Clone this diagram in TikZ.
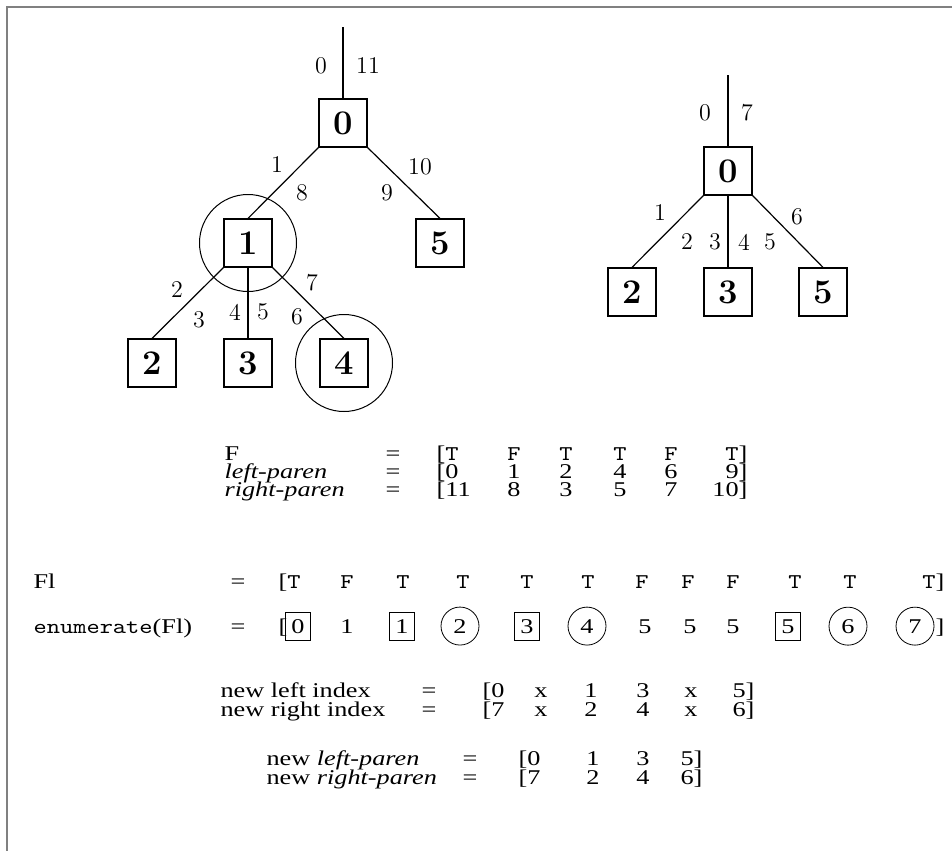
\documentclass[tikz,border=0pt]{standalone}
\usepackage{fontspec}
\setmainfont[FakeStretch=1.25]{Liberation Serif}
\setmonofont[FakeStretch=1.2]{Latin Modern Mono}
\newfontfamily\lmfont{Latin Modern Roman}
\tikzset{
  vbox/.style={draw, line width=0.6pt, minimum width=24pt, minimum height=24pt, inner sep=0pt, font=\lmfont\bfseries\fontsize{17.28}{20}\selectfont},
  ring/.style={draw, circle, line width=0.5pt, minimum size=48.5pt, inner sep=0pt},
  elab/.style={inner sep=0pt, font=\lmfont\fontsize{12}{14}\selectfont},
  txt/.style={inner sep=0pt, font=\fontsize{10.5}{12}\selectfont},
  sq/.style={draw, line width=0.4pt, minimum width=12.5pt, minimum height=14pt, inner sep=0pt, font=\fontsize{10.5}{12}\selectfont},
  rd/.style={draw, circle, line width=0.4pt, minimum size=19pt, inner sep=0pt, font=\fontsize{10.5}{12}\selectfont}
}
\begin{document}
\begin{tikzpicture}[x=0.5pt,y=-0.5pt,line width=0.6pt]
\useasboundingbox (0,0) rectangle (952,851);
\draw[gray, line width=1pt] (952,6.5) -- (6.5,6.5) -- (6.5,851);
\node[vbox] (a0) at (343,123) {0};
\node[vbox] (a1) at (248,243) {1};
\node[vbox] (a5) at (440,243) {5};
\node[vbox] (a2) at (152,363) {2};
\node[vbox] (a3) at (248,363) {3};
\node[vbox] (a4) at (344,363) {4};
\node[ring] (c1) at (a1) {};
\node[ring] (c4) at (a4) {};
\coordinate (atop) at (343,27);
\draw (atop) -- (a0);
\draw (a0.south west) -- (a1.north);
\draw (a0.south east) -- (a5.north);
\draw (a1.south west) -- (a2.north);
\draw (a1.south) -- (a3.north);
\draw (a1.south east) -- (a4.north);
\foreach \x/\y/\t [count=\i] in {321/66/0, 368/66/11, 277/165/1, 302/193/8, 420/167/10, 387/193/9,
  177/290/2, 199/320/3, 235/312/4, 263/312/5, 297/317/6, 312/283/7}
  \node[elab] (la\i) at (\x,\y) {\t};
\node[vbox] (b0) at (728,171) {0};
\node[vbox] (b2) at (632,292) {2};
\node[vbox] (b3) at (728,292) {3};
\node[vbox] (b5) at (823,292) {5};
\coordinate (btop) at (728,75);
\draw (btop) -- (b0);
\draw (b0.south west) -- (b2.north);
\draw (b0.south) -- (b3.north);
\draw (b0.south east) -- (b5.north);
\foreach \x/\y/\t [count=\i] in {705/113/0, 747/113/7, 660/213/1, 687/242/2, 715/242/3, 744/242/4, 770/242/5, 797/217/6}
  \node[elab] (lb\i) at (\x,\y) {\t};
\node[txt, anchor=base west] (fa) at (224,460) {F};
\node[txt, anchor=base west] (fb) at (224,478) {\itshape left-paren};
\node[txt, anchor=base west] (fc) at (224,496) {\itshape right-paren};
\foreach \y/\p/\q [count=\i] in {460/\texttt{T}/\texttt{T}, 478/0/9, 496/11/10} {
  \node[txt, anchor=base] (feq\i) at (393,\y) {=};
  \node[txt, anchor=base west] (fst\i) at (436,\y) {[\p};
  \node[txt, anchor=base east] (fen\i) at (748,\y) {\q]};
}
\foreach \x/\t [count=\i] in {514/\texttt{F}, 566/\texttt{T}, 620/\texttt{T}, 671/\texttt{F}}
  \node[txt, anchor=base] (fr\i) at (\x,460) {\t};
\foreach \x/\t [count=\i] in {514/1, 566/2, 620/4, 671/6}
  \node[txt, anchor=base] (lp\i) at (\x,478) {\t};
\foreach \x/\t [count=\i] in {514/8, 566/3, 620/5, 671/7}
  \node[txt, anchor=base] (rp\i) at (\x,496) {\t};
\node[txt, anchor=base west] (fl) at (33,588) {Fl};
\node[txt, anchor=base west] (en) at (33,633) {\texttt{enumerate}(Fl)};
\node[txt, anchor=base] (fleq) at (238,588) {=};
\node[txt, anchor=base] (eneq) at (238,633) {=};
\node[txt, anchor=base west] (flfirst) at (278,588) {[\texttt{T}};
\node[txt, anchor=base east] (fllast) at (945,588) {\texttt{T}]};
\foreach \x/\t [count=\i] in {347/F, 403/T, 463/T, 527/T, 588/T, 642/F, 688/F, 733/F, 795/T, 850/T}
  \node[txt, anchor=base] (fm\i) at (\x,588) {\texttt{\t}};
\node[txt, anchor=base west] (enl) at (278,633) {[};
\node[txt, anchor=base west] (enr) at (935,633) {]};
\node[sq, anchor=base] (e0) at (298,633) {0};
\node[txt, anchor=base] (e1) at (347,633) {1};
\node[sq, anchor=base] (e2) at (402,633) {1};
\node[rd, anchor=base] (e3) at (460,633) {2};
\node[sq, anchor=base] (e4) at (527,633) {3};
\node[rd, anchor=base] (e5) at (587,633) {4};
\node[txt, anchor=base] (e6) at (645,633) {5};
\node[txt, anchor=base] (e7) at (690,633) {5};
\node[txt, anchor=base] (e8) at (733,633) {5};
\node[sq, anchor=base] (e9) at (788,633) {5};
\node[rd, anchor=base] (e10) at (848,633) {6};
\node[rd, anchor=base] (e11) at (915,633) {7};
\node[txt, anchor=base west] (nl) at (220,697) {new left index};
\node[txt, anchor=base west] (nr) at (220,716) {new right index};
\foreach \y/\p/\q [count=\i] in {697/0/5, 716/7/6} {
  \node[txt, anchor=base] (neq\i) at (429,\y) {=};
  \node[txt, anchor=base west] (nst\i) at (482,\y) {[\p};
  \node[txt, anchor=base east] (nen\i) at (755,\y) {\q]};
}
\foreach \x/\t [count=\i] in {541/x, 591/1, 643/3, 691/x}
  \node[txt, anchor=base] (ni\i) at (\x,697) {\t};
\foreach \x/\t [count=\i] in {541/x, 591/2, 643/4, 691/x}
  \node[txt, anchor=base] (nj\i) at (\x,716) {\t};
\node[txt, anchor=base west] (pl) at (266,765) {new \itshape left-paren};
\node[txt, anchor=base west] (pr) at (266,784) {new \itshape right-paren};
\foreach \y/\p/\q [count=\i] in {765/0/5, 784/7/6} {
  \node[txt, anchor=base] (peq\i) at (470,\y) {=};
  \node[txt, anchor=base west] (pst\i) at (518,\y) {[\p};
  \node[txt, anchor=base east] (pen\i) at (703,\y) {\q]};
}
\foreach \x/\t [count=\i] in {593/1, 643/3}
  \node[txt, anchor=base] (pk\i) at (\x,765) {\t};
\foreach \x/\t [count=\i] in {593/2, 643/4}
  \node[txt, anchor=base] (pm\i) at (\x,784) {\t};
\end{tikzpicture}
\end{document}
